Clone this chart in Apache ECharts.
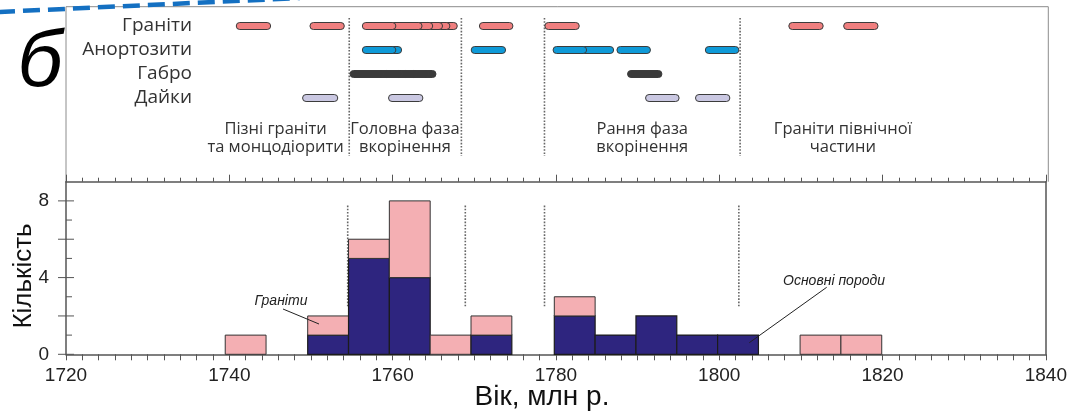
<!DOCTYPE html>
<html>
<head>
<meta charset="utf-8">
<script src="https://cdn.jsdelivr.net/npm/echarts@6/dist/echarts.min.js"></script>
<style>
  html, body { margin: 0; padding: 0; background: #fff; }
  #chart { width: 1070px; height: 416px; }
</style>
</head>
<body>
<div id="chart"></div>
<script>
// ---- Histogram of ages: 5 Myr bins, mafic rocks stacked under granites ----
const binStarts     = [1739.5, 1749.6, 1754.6, 1759.6, 1764.6, 1769.6, 1779.8, 1784.8, 1789.8, 1794.8, 1799.8, 1809.9, 1814.9];
const maficCounts   = [0, 1, 5, 4, 0, 1, 2, 1, 2, 1, 1, 0, 0];
const graniteCounts = [1, 1, 1, 4, 1, 1, 1, 0, 0, 0, 0, 1, 1];
const binWidth = 5;

// ---- Individual age intervals [from, to], Ma, per rock group ----
const rockGroups = ['Граніти', 'Анортозити', 'Габро', 'Дайки'];
const graniteAges = [
  [1740.8, 1745.0], [1749.8, 1754.0],
  [1763.7, 1767.8], [1762.8, 1766.9], [1761.8, 1766.0], [1760.7, 1764.8], [1759.4, 1763.5], [1756.2, 1760.3],
  [1770.5, 1774.6], [1778.5, 1782.7], [1808.3, 1812.5], [1815.0, 1819.2]
];
const anorthositeAges = [
  [1756.8, 1761.0], [1756.2, 1760.3], [1769.5, 1773.7],
  [1782.8, 1786.9], [1779.5, 1783.6], [1787.3, 1791.4], [1798.1, 1802.2]
];
const gabbroAges = [
  [1761.0, 1765.2], [1760.1, 1764.3], [1758.7, 1762.9], [1756.9, 1761.1], [1754.7, 1758.8], [1788.6, 1792.8]
];
const dykeAges = [
  [1748.9, 1753.2], [1759.4, 1763.6], [1790.8, 1794.9], [1796.9, 1801.1]
];

// ---- Phase boundaries (Ma) and phase names ----
const phaseBoundsTop    = [1754.6, 1768.3, 1778.45, 1802.35];
const phaseBoundsBottom = [1754.5, 1768.9, 1778.6, 1802.4];
const boundCountRange   = [2.5, 7.8];
const phaseNames = [
  ['Пізні граніти', 'та монцодіорити'],
  ['Головна фаза', 'вкорінення'],
  ['Рання фаза', 'вкорінення'],
  ['Граніти північної', 'частини']
];
const phaseNameAges = [1745.6, 1761.4, 1790.4, 1814.9];

// ---- Axis ticks ----
const xMin = 1720, xMax = 1840, xStep = 20;
const yMax = 9;
const yLabelStep = 4;
const yCrossTicks = [0, 2, 4, 6, 8];
const yInnerTicks = [1, 3, 5, 7];

// ---- Styling ----
const AXIS = '#555';
const NAVY = '#2e257f';
const PINK = '#f4afb3';
const OUTLINE = '#1c1c1c';
const SANS = 'Liberation Sans, Arial, sans-serif';
const LABEL_FONT = 'Open Sans, Noto Sans, sans-serif';

const L = 66, R = 1048.3, PLOT_TOP = 181.7, PLOT_BOTTOM = 354.3, FRAME_TOP = 6.7;

const chart = echarts.init(document.getElementById('chart'), null, { renderer: 'canvas' });

function pillSeries(ages, row, color) {
  return {
    type: 'custom',
    xAxisIndex: 2, yAxisIndex: 2,
    silent: true,
    data: ages.map(a => [a[0], a[1], row]),
    renderItem(params, api) {
      const p0 = api.coord([api.value(0), api.value(2)]);
      const p1 = api.coord([api.value(1), api.value(2)]);
      const h = 7;
      return {
        type: 'rect',
        shape: { x: p0[0], y: p0[1] - h / 2, width: p1[0] - p0[0], height: h, r: h / 2 },
        style: { fill: color, stroke: '#3c3c3c', lineWidth: 1 }
      };
    }
  };
}

const option = {
  animation: false,
  backgroundColor: '#fff',
  grid: [
    { left: L, top: PLOT_TOP, width: R - L, height: PLOT_BOTTOM - PLOT_TOP, containLabel: false },
    { left: L, top: 14, width: R - L, height: 96, containLabel: false }
  ],
  xAxis: [
    {
      gridIndex: 0, type: 'value', position: 'bottom', min: xMin, max: xMax, interval: xStep,
      axisLine: { show: true, onZero: false, lineStyle: { color: AXIS, width: 1.5 } },
      axisTick: { show: true, inside: false, length: 6, lineStyle: { color: AXIS, width: 1 } },
      minorTick: { show: true, splitNumber: 10, length: 6, lineStyle: { color: AXIS, width: 1 } },
      splitLine: { show: false },
      axisLabel: { color: '#222', fontSize: 19, fontFamily: SANS, margin: 12, formatter: v => String(v) }
    },
    {
      gridIndex: 0, type: 'value', position: 'top', min: xMin, max: xMax, interval: xStep,
      axisLine: { show: true, onZero: false, lineStyle: { color: AXIS, width: 1.5 } },
      axisTick: { show: true, inside: false, length: 7, lineStyle: { color: AXIS, width: 1 } },
      minorTick: { show: true, splitNumber: 10, length: 4, lineStyle: { color: AXIS, width: 1 } },
      splitLine: { show: false },
      axisLabel: { show: false }
    },
    {
      gridIndex: 1, type: 'value', min: xMin, max: xMax, show: false
    }
  ],
  yAxis: [
    {
      gridIndex: 0, type: 'value', position: 'left', min: 0, max: yMax, interval: yLabelStep,
      axisLine: { show: true, onZero: false, lineStyle: { color: AXIS, width: 1.5 } },
      axisTick: { show: false },
      splitLine: { show: false },
      axisLabel: {
        color: '#222', fontSize: 19, fontFamily: SANS, margin: 17,
        formatter: v => (v % yLabelStep === 0 ? String(v) : '')
      }
    },
    {
      gridIndex: 0, type: 'value', position: 'right', min: 0, max: yMax,
      axisLine: { show: true, onZero: false, lineStyle: { color: AXIS, width: 1.5 } },
      axisTick: { show: false }, axisLabel: { show: false }, splitLine: { show: false }
    },
    {
      gridIndex: 1, type: 'category', inverse: true, data: rockGroups,
      axisLine: { show: false }, axisTick: { show: false }, splitLine: { show: false },
      axisLabel: { color: '#333', fontSize: 19, fontFamily: LABEL_FONT, margin: -126, interval: 0, hideOverlap: false }
    }
  ],
  series: [
    // phase boundaries in the histogram
    {
      type: 'custom', xAxisIndex: 0, yAxisIndex: 0, silent: true, z: 1,
      data: phaseBoundsBottom.map(v => [v]),
      renderItem(params, api) {
        const a = api.coord([api.value(0), boundCountRange[0]]);
        const b = api.coord([api.value(0), boundCountRange[1]]);
        return {
          type: 'line', shape: { x1: a[0], y1: a[1], x2: b[0], y2: b[1] },
          style: { stroke: '#666', lineWidth: 1.6, lineDash: [1.6, 1.6] }
        };
      }
    },
    // stacked histogram
    {
      type: 'custom', xAxisIndex: 0, yAxisIndex: 0, silent: true, z: 2,
      data: binStarts.map((s, i) => [s, maficCounts[i], graniteCounts[i]]),
      renderItem(params, api) {
        const x0 = api.value(0), m = api.value(1), g = api.value(2);
        const base = api.coord([x0, 0]);
        const right = api.coord([x0 + binWidth, 0]);
        const w = right[0] - base[0];
        const children = [];
        if (m > 0) {
          const t = api.coord([x0, m]);
          children.push({ type: 'rect', shape: { x: base[0], y: t[1], width: w, height: base[1] - t[1] },
            style: { fill: NAVY, stroke: OUTLINE, lineWidth: 1.2 } });
        }
        if (g > 0) {
          const b = api.coord([x0, m]);
          const t = api.coord([x0, m + g]);
          children.push({ type: 'rect', shape: { x: base[0], y: t[1], width: w, height: b[1] - t[1] },
            style: { fill: PINK, stroke: '#333', lineWidth: 1 } });
        }
        return { type: 'group', children };
      }
    },
    // phase boundaries across the upper panel
    {
      type: 'custom', xAxisIndex: 2, yAxisIndex: 2, silent: true, z: 1,
      data: phaseBoundsTop.map(v => [v, 0]),
      renderItem(params, api) {
        const x = api.coord([api.value(0), 0])[0];
        return {
          type: 'line', shape: { x1: x, y1: 18, x2: x, y2: 156 },
          style: { stroke: '#666', lineWidth: 1.6, lineDash: [1.6, 1.6] }
        };
      }
    },
    // phase names
    {
      type: 'custom', xAxisIndex: 2, yAxisIndex: 2, silent: true, z: 3,
      data: phaseNameAges.map((v, i) => [v, 0, i]),
      renderItem(params, api) {
        const x = api.coord([api.value(0), 0])[0];
        const lines = phaseNames[api.value(2)];
        return {
          type: 'text', x: x, y: 138,
          style: {
            text: lines.join('\n'), fill: '#333', font: '16.5px ' + LABEL_FONT,
            align: 'center', verticalAlign: 'middle', lineHeight: 18
          }
        };
      }
    },
    pillSeries(graniteAges, 0, '#f07f7f'),
    pillSeries(anorthositeAges, 1, '#0f9ad8'),
    pillSeries(gabbroAges, 2, '#3a3a3a'),
    pillSeries(dykeAges, 3, '#cac8e2'),
    // tick marks on the count axis
    {
      type: 'custom', xAxisIndex: 0, yAxisIndex: 0, silent: true, z: 4,
      data: yCrossTicks.map(v => [v, 1]).concat(yInnerTicks.map(v => [v, 0])),
      renderItem(params, api) {
        const p = api.coord([xMin, api.value(0)]);
        const cross = api.value(1) === 1;
        return {
          type: 'line',
          shape: { x1: cross ? p[0] - 8 : p[0], y1: p[1], x2: p[0] + (cross ? 8 : 6), y2: p[1] },
          style: { stroke: AXIS, lineWidth: 1 }
        };
      }
    }
  ],
  graphic: [
    // frame of the upper panel
    {
      type: 'polyline', z: 0, silent: true,
      shape: { points: [[L, PLOT_TOP], [L, FRAME_TOP], [R, FRAME_TOP], [R, PLOT_TOP]] },
      style: { stroke: '#8c8c8c', lineWidth: 1, fill: null }
    },
    // decorative dashed stroke at the top edge
    {
      type: 'line', z: 10, silent: true,
      shape: { x1: -2, y1: 12, x2: 300, y2: -2 },
      style: { stroke: '#1470c2', lineWidth: 4.5, lineDash: [17, 8] }
    },
    // panel letter
    {
      type: 'text', z: 10, silent: true, x: 40, y: 64,
      style: { text: 'б', font: 'italic 80px ' + SANS, fill: '#000', align: 'center', verticalAlign: 'middle' }
    },
    // axis titles
    {
      type: 'text', silent: true, x: 24, y: 276, rotation: Math.PI / 2,
      style: { text: 'Кількість', font: '26px ' + SANS, fill: '#111', align: 'center', verticalAlign: 'middle' }
    },
    {
      type: 'text', silent: true, x: 542, y: 397,
      style: { text: 'Вік, млн р.', font: '28px ' + SANS, fill: '#111', align: 'center', verticalAlign: 'middle' }
    },
    // series callouts
    {
      type: 'text', silent: true, x: 281, y: 301,
      style: { text: 'Граніти', font: 'italic 14px ' + SANS, fill: '#222', align: 'center', verticalAlign: 'middle' }
    },
    {
      type: 'line', silent: true, z: 10,
      shape: { x1: 283, y1: 309, x2: 319, y2: 324 },
      style: { stroke: '#222', lineWidth: 1 }
    },
    {
      type: 'text', silent: true, x: 834, y: 281,
      style: { text: 'Основні породи', font: 'italic 14px ' + SANS, fill: '#222', align: 'center', verticalAlign: 'middle' }
    },
    {
      type: 'line', silent: true, z: 10,
      shape: { x1: 826.7, y1: 287.3, x2: 749.3, y2: 342.7 },
      style: { stroke: '#222', lineWidth: 1 }
    }
  ]
};

chart.setOption(option);
</script>
</body>
</html>
